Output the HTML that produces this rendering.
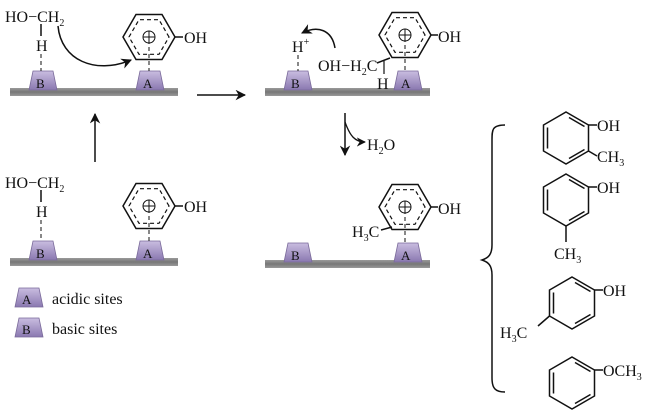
<!DOCTYPE html>
<html><head><style>
body{margin:0;background:#fff}
svg{display:block}
text{font-family:"Liberation Serif",serif;font-size:16px;fill:#111}
.s{font-size:10px}
.l{font-size:13px}
</style></head><body>
<svg width="650" height="417" viewBox="0 0 650 417">
<defs>
<linearGradient id="g" x1="0" x2="0" y1="0" y2="1"><stop offset="0" stop-color="#c9bde0"/><stop offset="1" stop-color="#8a78b0"/></linearGradient>
<linearGradient id="bar" x1="0" x2="0" y1="0" y2="1"><stop offset="0" stop-color="#9a9a9a"/><stop offset="0.5" stop-color="#777"/><stop offset="1" stop-color="#999"/></linearGradient>
<marker id="ah" viewBox="0 0 10 10" refX="9" refY="5" markerWidth="7" markerHeight="7" orient="auto"><path d="M0,0 L10,5 L0,10 L3,5z" fill="#111"/></marker>
<g id="blk"><path d="M3,0 L23,0 L27,19 L-1,19z" fill="url(#g)" stroke="#7a6a9a" stroke-width="0.8"/></g>
<g id="cat" fill="none" stroke="#111" stroke-width="1.5">
<polygon points="26,0 13,-22.5 -13,-22.5 -26,0 -13,22.5 13,22.5"/>
<polygon points="20,0 10,-17.3 -10,-17.3 -20,0 -10,17.3 10,17.3" stroke-dasharray="4,3" stroke-width="1.2"/>
<circle cx="0" cy="0" r="6" stroke-width="1"/><path d="M-6,0H6M0,-6V6" stroke-width="1"/>
</g>
<g id="bz" fill="none" stroke="#111" stroke-width="1.5">
<polygon points="0,-26 22.5,-13 22.5,13 0,26 -22.5,13 -22.5,-13"/>
<path d="M-18.5,-10.5V10.5 M3,-20.5 L18.5,-11.5 M3,20.5 L18.5,11.5"/>
</g>
</defs>

<rect x="10" y="88" width="168" height="8" fill="url(#bar)"/>
<use href="#blk" x="30" y="71"/><text class="l" x="36" y="88">B</text>
<use href="#blk" x="137" y="71"/><text class="l" x="143" y="88">A</text>
<use href="#cat" x="149" y="37"/>
<line x1="175" y1="37" x2="183" y2="37" stroke="#111" stroke-width="1.5"/>
<text x="184" y="43">OH</text>
<line x1="149" y1="40" x2="149" y2="71" stroke="#111" stroke-dasharray="4,3"/>
<text x="5" y="22">HO−CH<tspan class="s" dy="4">2</tspan></text>
<text x="36" y="51">H</text>
<line x1="41" y1="24" x2="41" y2="36" stroke="#111" stroke-width="1.5"/>
<line x1="41" y1="54" x2="41" y2="71" stroke="#111" stroke-dasharray="4,3"/>
<path d="M58,26 C61,60 95,75 131,60" fill="none" stroke="#111" stroke-width="1.5" marker-end="url(#ah)"/>

<line x1="197" y1="95" x2="245" y2="95" stroke="#111" stroke-width="1.5" marker-end="url(#ah)"/>
<line x1="95" y1="162" x2="95" y2="114" stroke="#111" stroke-width="1.5" marker-end="url(#ah)"/>

<rect x="10" y="258" width="168" height="8" fill="url(#bar)"/>
<use href="#blk" x="30" y="241"/><text class="l" x="36" y="258">B</text>
<use href="#blk" x="137" y="241"/><text class="l" x="143" y="258">A</text>
<use href="#cat" x="149" y="206"/>
<line x1="175" y1="206" x2="183" y2="206" stroke="#111" stroke-width="1.5"/>
<text x="184" y="212">OH</text>
<line x1="149" y1="209" x2="149" y2="241" stroke="#111" stroke-dasharray="4,3"/>
<text x="5" y="188">HO−CH<tspan class="s" dy="4">2</tspan></text>
<text x="36" y="217">H</text>
<line x1="41" y1="190" x2="41" y2="202" stroke="#111" stroke-width="1.5"/>
<line x1="41" y1="220" x2="41" y2="241" stroke="#111" stroke-dasharray="4,3"/>

<use href="#blk" x="16" y="288"/><text class="l" x="22" y="304">A</text>
<text x="52" y="304">acidic sites</text>
<use href="#blk" x="16" y="318"/><text class="l" x="22" y="334">B</text>
<text x="52" y="334">basic sites</text>

<rect x="265" y="88" width="165" height="8" fill="url(#bar)"/>
<use href="#blk" x="285" y="71"/><text class="l" x="291" y="88">B</text>
<use href="#blk" x="395" y="71"/><text class="l" x="401" y="88">A</text>
<use href="#cat" x="405" y="35"/>
<line x1="431" y1="35" x2="438" y2="35" stroke="#111" stroke-width="1.5"/>
<text x="438" y="42">OH</text>
<line x1="405" y1="38" x2="405" y2="71" stroke="#111" stroke-dasharray="4,3"/>
<text x="292" y="52">H<tspan class="s" dy="-7">+</tspan></text>
<line x1="298" y1="55" x2="298" y2="71" stroke="#111" stroke-dasharray="4,3"/>
<path d="M335,48 C332,30 318,25 302,33" fill="none" stroke="#111" stroke-width="1.5" marker-end="url(#ah)"/>
<text x="318" y="71">OH−H<tspan class="s" dy="4">2</tspan><tspan dy="-4">C</tspan></text>
<line x1="377" y1="63" x2="390" y2="58" stroke="#111" stroke-width="1.5"/>
<line x1="384" y1="61" x2="384" y2="74" stroke="#111" stroke-width="1.2"/>
<text x="377" y="89">H</text>

<line x1="345" y1="113" x2="345" y2="155" stroke="#111" stroke-width="1.5" marker-end="url(#ah)"/>
<path d="M345,122 C350,136 355,142 365,142" fill="none" stroke="#111" stroke-width="1.3" marker-end="url(#ah)"/>
<text x="367" y="150">H<tspan class="s" dy="4">2</tspan><tspan dy="-4">O</tspan></text>

<rect x="265" y="260" width="165" height="8" fill="url(#bar)"/>
<use href="#blk" x="285" y="243"/><text class="l" x="291" y="260">B</text>
<use href="#blk" x="395" y="243"/><text class="l" x="401" y="260">A</text>
<use href="#cat" x="405" y="207"/>
<line x1="431" y1="207" x2="438" y2="207" stroke="#111" stroke-width="1.5"/>
<text x="438" y="214">OH</text>
<line x1="405" y1="210" x2="405" y2="243" stroke="#111" stroke-dasharray="4,3"/>
<text x="352" y="237">H<tspan class="s" dy="4">3</tspan><tspan dy="-4">C</tspan></text>
<line x1="381" y1="230" x2="392" y2="227" stroke="#111" stroke-width="1.5"/>

<path d="M505,125 C492,125 492,130 492,140 L492,245 C492,255 488,258 482,260 C488,262 492,265 492,275 L492,378 C492,388 495,392 505,392" fill="none" stroke="#111" stroke-width="1.5"/>

<use href="#bz" x="566" y="138"/>
<line x1="588.5" y1="125" x2="597" y2="125" stroke="#111" stroke-width="1.5"/>
<text x="597" y="131">OH</text>
<line x1="588.5" y1="151" x2="597" y2="156" stroke="#111" stroke-width="1.5"/>
<text x="597" y="162">CH<tspan class="s" dy="4">3</tspan></text>

<use href="#bz" x="566" y="200"/>
<line x1="588.5" y1="187" x2="597" y2="187" stroke="#111" stroke-width="1.5"/>
<text x="597" y="193">OH</text>
<line x1="566" y1="226" x2="566" y2="242" stroke="#111" stroke-width="1.5"/>
<text x="554" y="259">CH<tspan class="s" dy="4">3</tspan></text>

<use href="#bz" x="572" y="303"/>
<line x1="594.5" y1="290" x2="603" y2="290" stroke="#111" stroke-width="1.5"/>
<text x="603" y="296">OH</text>
<line x1="549.5" y1="316" x2="538" y2="326" stroke="#111" stroke-width="1.5"/>
<text x="500" y="338">H<tspan class="s" dy="4">3</tspan><tspan dy="-4">C</tspan></text>

<use href="#bz" x="572" y="383"/>
<line x1="594.5" y1="370" x2="603" y2="370" stroke="#111" stroke-width="1.5"/>
<text x="603" y="376">OCH<tspan class="s" dy="4">3</tspan></text>
</svg>
</body></html>
